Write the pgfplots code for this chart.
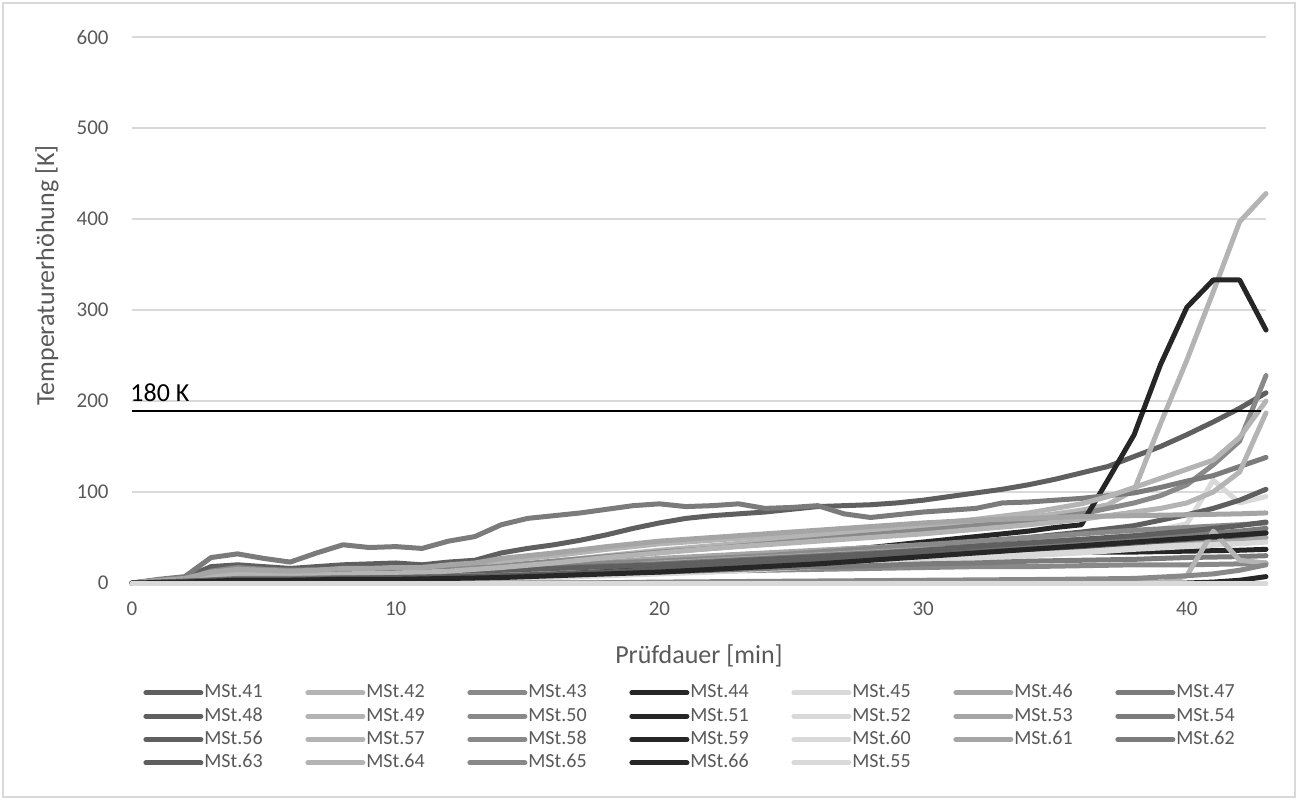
\documentclass[border=0pt]{standalone}
\usepackage{fontspec}
\setmainfont{Carlito}
\usepackage{pgfplots}
\pgfplotsset{compat=1.18}
\definecolor{cA}{HTML}{5F5F5F}
\definecolor{cB}{HTML}{B4B4B4}
\definecolor{cC}{HTML}{898989}
\definecolor{cD}{HTML}{262626}
\definecolor{cE}{HTML}{D9D9D9}
\definecolor{cF}{HTML}{A5A5A5}
\definecolor{cG}{HTML}{7B7B7B}
\definecolor{txt}{HTML}{595959}
\definecolor{gridc}{HTML}{D9D9D9}
\begin{document}
\begin{tikzpicture}[x=1pt,y=1pt]
\useasboundingbox (-66,-108.5) rectangle (583,291.5);
\draw[gridc, line width=0.6pt] (-64.5,-107) rectangle (581.5,290);
\begin{axis}[
  at={(0,0)}, anchor=south west,
  scale only axis, width=567pt, height=273pt,
  xmin=0, xmax=43, ymin=0, ymax=600,
  xtick={0,10,20,30,40}, ytick={0,100,200,300,400,500,600},
  axis line style={draw=none}, major tick length=0pt,
  ymajorgrids, grid style={gridc, line width=0.6pt},
  clip=false,
  /pgf/number format/assume math mode=true,
  tick label style={font=\fontsize{10.5}{12}\selectfont, text=txt},
  yticklabel style={anchor=east, inner sep=0pt, xshift=-11.5pt},
  xticklabel style={anchor=center, inner sep=0pt, yshift=-13pt},
  xlabel={Prüfdauer [min]}, ylabel={Temperaturerhöhung [K]},
  label style={font=\fontsize{13}{15}\selectfont, text=txt},
  xlabel style={at={(axis description cs:0.5,-0.1337)}, anchor=center},
  ylabel style={at={(axis description cs:-0.075,0.5632)}, anchor=center},
  every axis plot/.append style={line width=2.5pt, line cap=round, line join=round, mark=none},
  legend columns=7,
  legend cell align=left,
  legend image code/.code={\draw[#1, line width=2.5pt, line cap=round] (1.25pt,0pt) -- (28.75pt,0pt);},
  legend style={at={(axis description cs:0,0)}, anchor=north west, xshift=5.5pt, yshift=-49.5pt,
    draw=none, inner sep=0pt, row sep=1.27pt,
    font=\fontsize{10}{12}\selectfont, text=txt,
    nodes={inner sep=0.5pt, text height=7.2pt, text depth=2.2pt, text width=31pt, align=left},
    /tikz/every even column/.append style={column sep=19pt}},
]
% MSt.41
\addplot[cA] coordinates {(0,0)(1,3)(2,6)(3,18)(4,20)(5,18)(6,16)(7,18)(8,20)(9,21)(10,22)(11,20)(12,23)(13,25)(14,33)(15,38)(16,42)(17,47)(18,53)(19,60)(20,66)(21,71)(22,74)(23,76)(24,78)(25,81)(26,84)(27,85)(28,86)(29,88)(30,91)(31,95)(32,99)(33,103)(34,108)(35,114)(36,121)(37,128)(38,139)(39,150)(40,163)(41,177)(42,192)(43,209)};
\addlegendentry{MSt.41}
% MSt.42
\addplot[cB] coordinates {(0,0)(1,2)(2,4)(3,9)(4,12)(5,11)(6,10)(7,10)(8,11)(9,12)(10,12)(12,14)(14,18)(16,24)(18,30)(20,36)(22,41)(24,46)(26,51)(28,56)(30,61)(32,66)(34,72)(36,80)(37,86)(38,102)(39,175)(40,245)(41,320)(42,397)(43,428)};
\addlegendentry{MSt.42}
% MSt.43
\addplot[cC] coordinates {(0,0)(2,4)(3,10)(4,13)(6,11)(8,12)(10,13)(12,15)(14,19)(16,24)(18,29)(20,34)(22,38)(24,43)(26,48)(28,53)(30,58)(32,63)(34,68)(36,76)(38,88)(39,96)(40,108)(41,130)(42,156)(43,228)};
\addlegendentry{MSt.43}
% MSt.44
\addplot[cD] coordinates {(0,0)(1,2)(2,4)(3,8)(4,12)(5,10)(6,9)(7,9)(8,12)(9,13)(10,12)(11,11)(12,12)(13,13)(14,14)(15,15)(16,17)(17,19)(18,21)(19,23)(20,25)(21,27)(22,29)(23,31)(24,32)(25,33)(26,35)(27,37)(28,39)(29,42)(30,45)(31,48)(32,51)(33,54)(34,57)(35,61)(36,64)(37,113)(38,163)(39,240)(40,303)(41,333)(42,333)(43,278)};
\addlegendentry{MSt.44}
% MSt.45
\addplot[cE] coordinates {(0,0)(2,1)(4,3)(6,3)(8,4)(10,5)(12,6)(14,8)(16,10)(18,12)(20,15)(22,18)(24,21)(26,24)(28,28)(30,32)(32,36)(34,40)(36,45)(37,50)(38,55)(39,59)(40,65)(41,113)(42,88)(43,95)};
\addlegendentry{MSt.45}
% MSt.46
\addplot[cF] coordinates {(0,0)(2,3)(3,7)(4,9)(6,8)(8,9)(10,10)(12,12)(14,15)(16,19)(18,23)(20,27)(22,30)(24,33)(26,36)(28,39)(30,42)(32,44)(34,46)(36,48)(38,50)(40,52)(42,54)(43,56)};
\addlegendentry{MSt.46}
% MSt.47
\addplot[cG] coordinates {(0,0)(1,4)(2,7)(3,28)(4,32)(5,27)(6,23)(7,33)(8,42)(9,39)(10,40)(11,38)(12,46)(13,51)(14,64)(15,71)(16,74)(17,77)(18,81)(19,85)(20,87)(21,84)(22,85)(23,87)(24,82)(25,83)(26,85)(27,76)(28,72)(29,75)(30,78)(31,80)(32,82)(33,88)(34,89)(35,91)(36,93)(37,96)(38,99)(39,105)(40,112)(41,118)(42,128)(43,138)};
\addlegendentry{MSt.47}
% MSt.48
\addplot[cA] coordinates {(0,0)(2,4)(3,12)(4,15)(5,13)(6,11)(8,12)(10,13)(12,14)(14,16)(16,18)(18,20)(20,23)(22,26)(24,29)(26,33)(28,37)(30,41)(32,45)(34,50)(36,56)(38,63)(39,69)(40,75)(41,82)(42,91)(43,103)};
\addlegendentry{MSt.48}
% MSt.49
\addplot[cB] coordinates {(0,0)(1,2)(2,4)(3,11)(4,15)(5,14)(6,13)(7,13)(8,15)(9,15)(10,16)(12,18)(14,24)(16,30)(18,37)(20,43)(22,47)(24,51)(26,55)(28,59)(30,64)(32,70)(34,77)(36,87)(37,95)(38,105)(39,115)(40,125)(41,135)(42,160)(43,200)};
\addlegendentry{MSt.49}
% MSt.50
\addplot[cC] coordinates {(0,0)(2,4)(3,13)(4,17)(5,15)(6,14)(8,15)(10,15)(12,16)(14,18)(16,20)(18,22)(20,24)(22,27)(24,30)(26,34)(28,38)(30,42)(32,46)(34,50)(36,54)(38,58)(40,61)(42,64)(43,66)};
\addlegendentry{MSt.50}
% MSt.51
\addplot[cD] coordinates {(0,0)(2,3)(3,6)(4,9)(6,7)(8,8)(10,8)(12,9)(14,10)(16,12)(18,14)(20,17)(22,20)(24,23)(26,26)(28,29)(30,31)(32,32)(34,33)(36,34)(38,34)(40,35)(42,36)(43,37)};
\addlegendentry{MSt.51}
% MSt.52
\addplot[cE] coordinates {(0,0)(2,1)(4,2)(8,3)(10,4)(12,5)(14,6)(16,8)(18,10)(20,12)(22,14)(24,17)(26,20)(28,24)(30,27)(32,30)(34,34)(36,38)(38,42)(40,45)(42,48)(43,50)};
\addlegendentry{MSt.52}
% MSt.53
\addplot[cF] coordinates {(0,0)(2,3)(3,6)(4,8)(6,7)(8,8)(10,9)(12,10)(14,12)(16,15)(18,18)(20,22)(22,25)(24,28)(26,31)(28,34)(30,37)(32,39)(34,41)(36,43)(38,45)(40,47)(42,49)(43,50)};
\addlegendentry{MSt.53}
% MSt.54
\addplot[cG] coordinates {(0,0)(2,3)(3,9)(4,12)(6,10)(8,11)(10,12)(12,13)(14,15)(16,17)(18,19)(20,21)(22,24)(24,27)(26,30)(28,33)(30,36)(32,39)(34,42)(36,45)(38,49)(40,53)(42,57)(43,60)};
\addlegendentry{MSt.54}
% MSt.56
\addplot[cA] coordinates {(0,0)(2,3)(3,10)(4,13)(6,11)(8,12)(10,12)(12,13)(14,14)(16,16)(18,18)(20,20)(22,23)(24,26)(26,29)(28,32)(30,36)(32,40)(34,44)(36,48)(38,52)(40,57)(42,63)(43,67)};
\addlegendentry{MSt.56}
% MSt.57
\addplot[cB] coordinates {(0,0)(2,3)(3,8)(4,10)(6,9)(8,10)(10,11)(12,13)(14,17)(16,22)(18,28)(20,33)(22,38)(24,42)(26,46)(28,50)(30,54)(32,59)(34,64)(36,70)(38,78)(39,82)(40,88)(41,100)(42,122)(43,187)};
\addlegendentry{MSt.57}
% MSt.58
\addplot[cC] coordinates {(0,0)(2,1)(4,3)(6,3)(8,4)(10,5)(12,6)(14,7)(16,9)(18,10)(20,12)(22,13)(24,14)(26,15)(28,16)(30,17)(32,18)(34,18)(36,19)(38,20)(40,20)(42,21)(43,22)};
\addlegendentry{MSt.58}
% MSt.59
\addplot[cD] coordinates {(0,0)(10,0)(20,0)(30,0)(39,0)(40,0)(41,1)(42,3)(43,7)};
\addlegendentry{MSt.59}
% MSt.60
\addplot[cE] coordinates {(0,0)(2,1)(4,2)(6,2)(8,3)(10,3)(12,4)(14,5)(16,6)(18,8)(20,10)(22,12)(24,15)(26,18)(28,21)(30,24)(32,27)(34,30)(36,33)(38,37)(40,40)(42,43)(43,45)};
\addlegendentry{MSt.60}
% MSt.61
\addplot[cF] coordinates {(0,0)(1,3)(2,5)(3,12)(4,15)(5,14)(6,13)(7,14)(8,16)(9,16)(10,17)(11,17)(12,20)(13,22)(14,27)(16,33)(18,40)(20,46)(22,50)(24,54)(26,58)(28,62)(30,66)(32,69)(34,71)(36,73)(38,74)(40,75)(42,76)(43,77)};
\addlegendentry{MSt.61}
% MSt.62
\addplot[cG] coordinates {(0,0)(2,2)(4,5)(6,5)(8,6)(10,6)(12,7)(14,8)(16,9)(18,11)(20,12)(22,14)(24,16)(26,18)(28,19)(30,21)(32,22)(34,24)(36,25)(38,26)(40,28)(42,29)(43,30)};
\addlegendentry{MSt.62}
% MSt.63
\addplot[cA] coordinates {(0,0)(2,2)(4,4)(6,4)(8,5)(10,6)(12,7)(14,8)(16,10)(18,12)(20,15)(22,18)(24,21)(26,24)(28,27)(30,31)(32,34)(34,37)(36,40)(38,44)(40,48)(42,52)(43,55)};
\addlegendentry{MSt.63}
% MSt.64
\addplot[cB] coordinates {(0,0)(10,0)(20,0)(30,0)(39,0)(40,8)(41,57)(42,25)(43,22)};
\addlegendentry{MSt.64}
% MSt.65
\addplot[cC] coordinates {(0,0)(17,0)(20,1)(25,2)(30,3)(35,4)(38,5)(40,8)(41,10)(42,14)(43,20)};
\addlegendentry{MSt.65}
% MSt.66
\addplot[cD] coordinates {(0,0)(2,1)(4,3)(6,3)(8,4)(10,4)(12,5)(14,6)(16,8)(18,10)(20,12)(22,15)(24,18)(26,21)(28,25)(30,29)(32,33)(34,37)(36,41)(38,45)(40,49)(42,53)(43,55)};
\addlegendentry{MSt.66}
% MSt.55
\addplot[cE] coordinates {(0,0)(10,0)(20,0)(30,0)(40,0)(43,0)};
\addlegendentry{MSt.55}
% 180 K line
\addplot[black, line width=1pt, line cap=butt, forget plot] coordinates {(0,189)(42.8,189)};
\node[anchor=base west, inner sep=0pt, font=\fontsize{13}{15}\selectfont, text=black] at (axis cs:0,189) [xshift=-1pt, yshift=4.85pt] {180 K};
\end{axis}
\end{tikzpicture}
\end{document}
